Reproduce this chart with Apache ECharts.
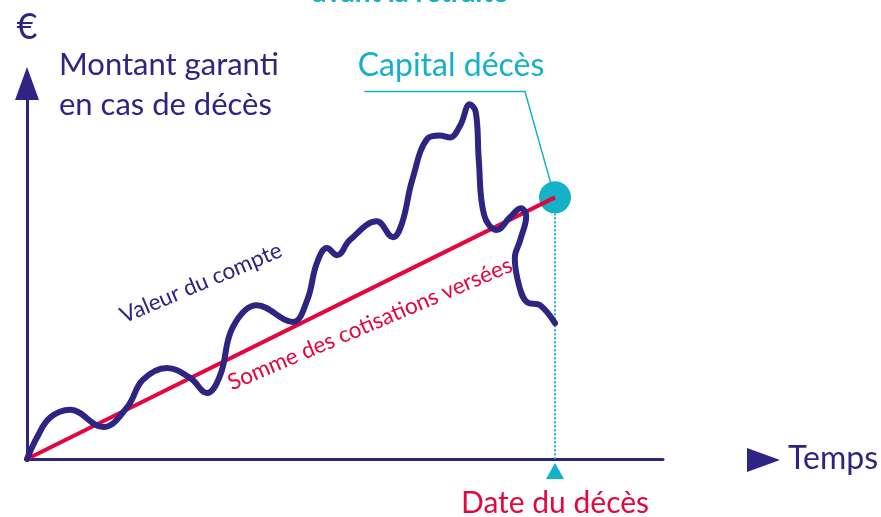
<!DOCTYPE html>
<html>
<head>
<meta charset="utf-8">
<script src="https://cdn.jsdelivr.net/npm/echarts@6/dist/echarts.min.js"></script>
<style>
  html, body { margin: 0; padding: 0; background: #fff; }
  #chart { width: 881px; height: 517px; }
</style>
</head>
<body>
<div id="chart"></div>
<script>
// couleurs
const navy = '#2e2583'
const red = '#e3063f'
const teal = '#15b1c7'
const font = 'Lato, "Noto Sans", sans-serif'

// valeur du compte (temps, montant)
const compteTemps = [0, 1.7, 3.8, 7.2, 12.7, 16.7, 19.3, 23.3, 27.2, 30, 32.2, 34.3, 38.3, 44.3, 46.7, 48.3, 50, 51.7, 53.8, 58.3, 61, 62.5, 64.2, 66.8, 68.8, 70.5, 72.2, 73.8, 74.8, 75.3, 76.2, 78.3, 80.5, 82.3, 83.2, 82.2, 81.3, 82, 83.3, 85.5, 88]
const compteMontant = [0, 5.5, 10.3, 12.3, 8, 13, 19.8, 22.8, 20.3, 16.5, 21, 33, 38.5, 34.3, 39.8, 49, 52.8, 51, 54.8, 59.5, 55.5, 59, 69.8, 80.3, 81, 80.5, 83.5, 88.8, 86.8, 74.8, 61, 57.3, 60.5, 62.8, 60.8, 54.8, 50.3, 43.5, 39.3, 38.5, 34]

// somme des cotisations versées
const cotisTemps = [0, 88]
const cotisMontant = [0, 65.5]

// date du décès et capital décès
const dateDeces = 88
const capitalDeces = 65.5

// trait de rappel vers "Capital décès"
const rappelTemps = [56.2, 83, 87.3]
const rappelMontant = [92, 92, 69]

const pairs = (xs, ys) => xs.map((x, i) => [x, ys[i]])

const myChart = echarts.init(document.getElementById('chart'))

const option = {
  animation: false,
  grid: { left: 27, right: 218, top: 83.5, bottom: 58, containLabel: false },
  xAxis: {
    type: 'value',
    min: 0,
    max: 106,
    name: 'Temps',
    nameLocation: 'end',
    nameGap: 125,
    nameTextStyle: { color: navy, fontSize: 32, fontFamily: font, verticalAlign: 'middle' },
    axisLine: { lineStyle: { color: navy, width: 3 } },
    axisTick: { show: false },
    axisLabel: { show: false },
    splitLine: { show: false }
  },
  yAxis: {
    type: 'value',
    min: 0,
    max: 94,
    name: '€',
    nameLocation: 'end',
    nameGap: 38,
    nameTextStyle: { color: navy, fontSize: 36, fontFamily: font },
    axisLine: {
      show: true,
      symbol: ['none', 'triangle'],
      symbolSize: [24, 33],
      lineStyle: { color: navy, width: 3 }
    },
    axisTick: { show: false },
    axisLabel: { show: false },
    splitLine: { show: false }
  },
  graphic: [
    // titre coupé en haut
    {
      type: 'text', x: 410, y: -7,
      style: { text: 'avant la retraite', fill: teal, font: 'bold 28px ' + font, align: 'center', verticalAlign: 'middle', textAlign: 'center', textVerticalAlign: 'middle' }
    },
    {
      type: 'text', x: 59, y: 45,
      style: { text: 'Montant garanti\nen cas de décès', fill: navy, font: '31px ' + font, lineHeight: 40 }
    },
    {
      type: 'text', x: 451, y: 66,
      style: { text: 'Capital décès', fill: teal, font: '32px ' + font, align: 'center', verticalAlign: 'middle', textAlign: 'center', textVerticalAlign: 'middle' }
    },
    {
      type: 'text', x: 201, y: 283, rotation: 23 * Math.PI / 180,
      style: { text: 'Valeur du compte', fill: navy, font: '22.5px ' + font, align: 'center', verticalAlign: 'middle', textAlign: 'center', textVerticalAlign: 'middle' }
    },
    {
      type: 'text', x: 370, y: 324, rotation: 23 * Math.PI / 180,
      style: { text: 'Somme des cotisations versées', fill: red, font: '22.5px ' + font, align: 'center', verticalAlign: 'middle', textAlign: 'center', textVerticalAlign: 'middle' }
    },
    // flèche devant "Temps"
    {
      type: 'polygon',
      shape: { points: [[747, 448], [780, 460], [747, 472]] },
      style: { fill: navy }
    }
  ],
  series: [
    {
      type: 'line',
      data: pairs(rappelTemps, rappelMontant),
      symbol: 'none',
      lineStyle: { color: teal, width: 1.5 },
      z: 1
    },
    {
      type: 'line',
      data: [[dateDeces, capitalDeces], [dateDeces, 0]],
      symbol: 'none',
      lineStyle: { color: teal, width: 2, type: [2, 2] },
      z: 1
    },
    {
      type: 'scatter',
      data: [[dateDeces, capitalDeces]],
      symbol: 'circle',
      symbolSize: 32,
      itemStyle: { color: teal, opacity: 1 },
      z: 2
    },
    {
      type: 'scatter',
      data: [[dateDeces, -3]],
      symbol: 'triangle',
      symbolSize: [18, 16],
      clip: false,
      itemStyle: { color: teal, opacity: 1 },
      label: {
        show: true,
        position: 'bottom',
        distance: 9,
        formatter: 'Date du décès',
        color: red,
        fontSize: 30,
        fontFamily: font
      },
      z: 2
    },
    {
      name: 'Somme des cotisations versées',
      type: 'line',
      data: pairs(cotisTemps, cotisMontant),
      symbol: 'none',
      lineStyle: { color: red, width: 4 },
      z: 3
    },
    {
      name: 'Valeur du compte',
      type: 'line',
      data: pairs(compteTemps, compteMontant),
      symbol: 'none',
      smooth: 0.4,
      lineStyle: { color: navy, width: 6, cap: 'round', join: 'round' },
      z: 4
    }
  ]
}

myChart.setOption(option)
window.addEventListener('resize', function () {
  myChart.resize()
})
</script>
</body>
</html>
